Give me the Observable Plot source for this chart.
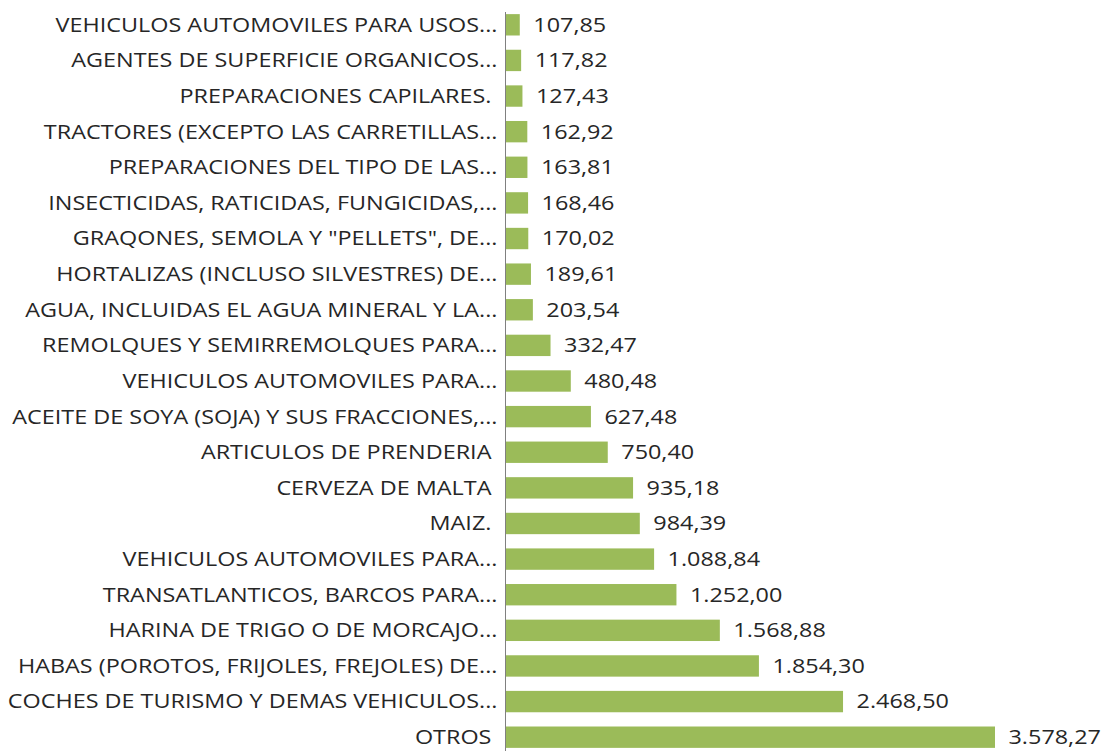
<!DOCTYPE html>
<html><head><meta charset="utf-8">
<script src="https://cdn.jsdelivr.net/npm/d3@7"></script>
<script src="https://cdn.jsdelivr.net/npm/@observablehq/plot@0.6"></script>
<style>body{margin:0;background:#fff;overflow:hidden}</style>
</head><body><div id="chart"></div>
<script>
const categories = [
  "VEHICULOS AUTOMOVILES PARA USOS...",
  "AGENTES DE SUPERFICIE ORGANICOS...",
  "PREPARACIONES CAPILARES.\u00A0",
  "TRACTORES (EXCEPTO LAS CARRETILLAS...",
  "PREPARACIONES DEL TIPO DE LAS...",
  "INSECTICIDAS, RATICIDAS, FUNGICIDAS,...",
  "GRAQONES, SEMOLA Y \"PELLETS\", DE...",
  "HORTALIZAS (INCLUSO SILVESTRES) DE...",
  "AGUA, INCLUIDAS EL AGUA MINERAL Y LA...",
  "REMOLQUES Y SEMIRREMOLQUES PARA...",
  "VEHICULOS AUTOMOVILES PARA...",
  "ACEITE DE SOYA (SOJA) Y SUS FRACCIONES,...",
  "ARTICULOS DE PRENDERIA\u00A0",
  "CERVEZA DE MALTA\u00A0",
  "MAIZ.\u00A0",
  "VEHICULOS AUTOMOVILES PARA...",
  "TRANSATLANTICOS, BARCOS PARA...",
  "HARINA DE TRIGO O DE MORCAJO...",
  "HABAS (POROTOS, FRIJOLES, FREJOLES) DE...",
  "COCHES DE TURISMO Y DEMAS VEHICULOS...",
  "OTROS\u00A0"
];
const values = [107.85, 117.82, 127.43, 162.92, 163.81, 168.46, 170.02, 189.61, 203.54, 332.47,
  480.48, 627.48, 750.40, 935.18, 984.39, 1088.84, 1252.00, 1568.88, 1854.30, 2468.50, 3578.27];

const data = categories.map((c, i) => ({i, c, v: values[i]}));
const loc = d3.formatLocale({decimal: ",", thousands: ".", grouping: [3], currency: ["", ""]});
const fmt = loc.format(",.2f");

const chart = Plot.plot({
  width: 1105, height: 751,
  marginLeft: 505, marginRight: 0, marginTop: 12, marginBottom: 0,
  style: {fontFamily: "'Open Sans', sans-serif", fontSize: "20px", color: "#262626", background: "transparent", overflow: "hidden"},
  x: {domain: [0, 3578.27], range: [505, 995], axis: null},
  y: {domain: data.map(d => d.i), range: [7, 755], paddingInner: 0.4, paddingOuter: 0.2, round: false, axis: null},
  marks: [
    Plot.barX(data, {x: "v", y: "i", fill: "#9BBB59"}),
    Plot.ruleX([0], {stroke: "#808080", strokeWidth: 1}),
    Plot.axisY({tickSize: 0, tickPadding: 8, tickFormat: i => categories[i], label: null, fontSize: 20, fill: "#262626"}),
    Plot.text(data, {x: "v", y: "i", text: d => fmt(d.v), textAnchor: "start", dx: 13, fill: "#262626", fontSize: 20})
  ]
});
// the reference's lettering is slightly stretched horizontally
const sx = 1.17;
d3.select(chart).selectAll("text").each(function() {
  const t = this.getAttribute("transform");
  if (t) this.setAttribute("transform", t + ` scale(${sx},1)`);
  else {
    const x = +(this.getAttribute("x") || 0);
    this.setAttribute("transform", `translate(${x},0) scale(${sx},1) translate(${-x},0)`);
  }
});
document.getElementById("chart").appendChild(chart);
</script>
</body></html>
